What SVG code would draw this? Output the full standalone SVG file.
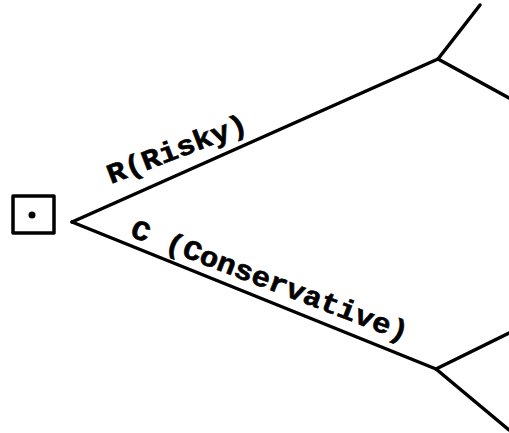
<svg xmlns="http://www.w3.org/2000/svg" width="509" height="433" viewBox="0 0 509 433">
<style>
.ln{fill:none;stroke:#000;stroke-width:3.5;stroke-linecap:round;stroke-linejoin:round}
.lbl{font-family:"Liberation Mono","Courier New",monospace;font-weight:bold;font-size:28px;fill:#000;stroke:#000;stroke-width:0.6}
</style>
<rect width="509" height="433" fill="#fff"/>
<g id="decision">
<rect x="13" y="196" width="41" height="37" class="ln" stroke-width="4"/>
<circle cx="32" cy="215" r="3.5" fill="#000"/>
</g>
<g id="connectors">
<path class="ln" d="M72,222 L438,59"/>
<path class="ln" d="M72,222 L436,369"/>
<path class="ln" d="M438,59 L480,5"/>
<path class="ln" d="M438,59 L509,98"/>
<path class="ln" d="M436,369 L509,333"/>
<path class="ln" d="M436,369 L509,430"/>
</g>
<g id="labels">
<text class="lbl" transform="translate(111,184) rotate(-21)" textLength="148" lengthAdjust="spacingAndGlyphs">R(Risky)</text>
<text class="lbl" transform="translate(129,236) rotate(21)" textLength="295" lengthAdjust="spacingAndGlyphs">C (Conservative)</text>
</g>
</svg>
